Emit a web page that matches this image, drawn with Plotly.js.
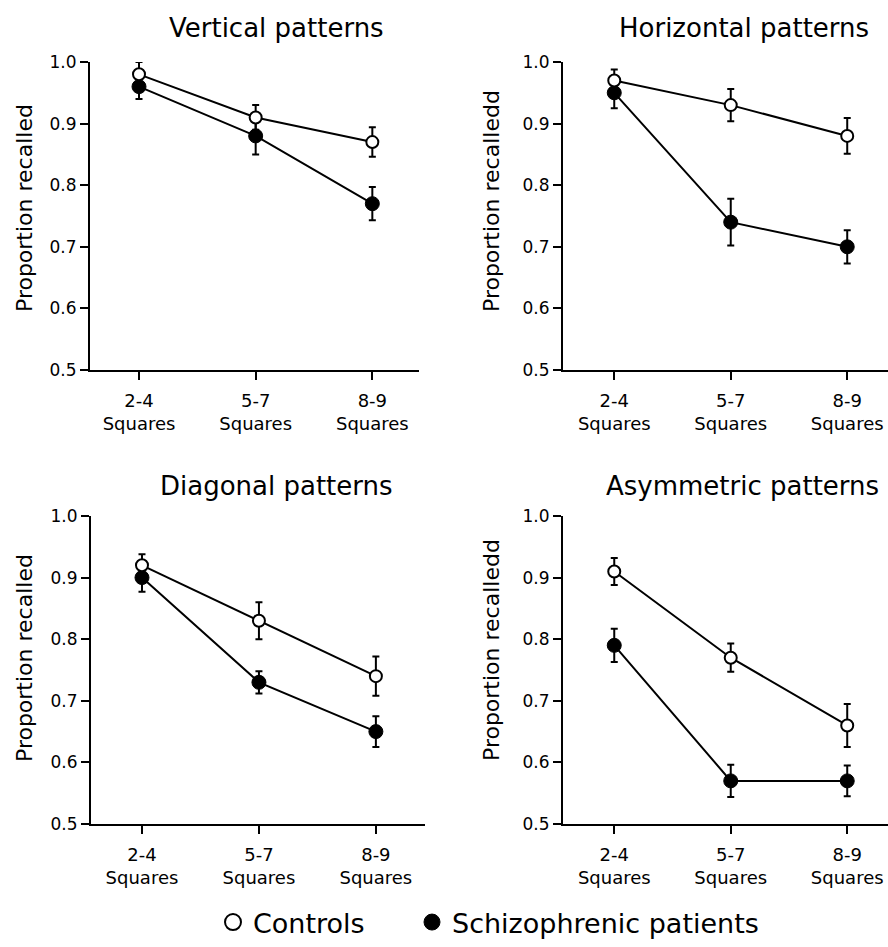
<!DOCTYPE html>
<html>
<head>
<meta charset="utf-8">
<script src="https://cdn.plot.ly/plotly-3.0.1.min.js"></script>
<style>
html,body{margin:0;padding:0;background:#fff;}
#chart{width:888px;height:947px;}
</style>
</head>
<body>
<div id="chart"></div>
<script>
// ---- data ----
const categories = ['2-4<br>Squares', '5-7<br>Squares', '8-9<br>Squares'];
const yTickVals = [0.5, 0.6, 0.7, 0.8, 0.9, 1.0];
const yTickText = ['0.5', '0.6', '0.7', '0.8', '0.9', '1.0'];
const seriesNames = ['Controls', 'Schizophrenic patients'];
const panelTitles = ['Vertical patterns', 'Horizontal patterns', 'Diagonal patterns', 'Asymmetric patterns'];
const yTitles = ['Proportion recalled', 'Proportion recalledd', 'Proportion recalled', 'Proportion recalledd'];

const verticalControls = [0.98, 0.91, 0.87];
const verticalControlsErr = [0.02, 0.02, 0.024];
const verticalPatients = [0.96, 0.88, 0.77];
const verticalPatientsErr = [0.02, 0.03, 0.027];

const horizontalControls = [0.97, 0.93, 0.88];
const horizontalControlsErr = [0.018, 0.026, 0.029];
const horizontalPatients = [0.95, 0.74, 0.70];
const horizontalPatientsErr = [0.025, 0.038, 0.027];

const diagonalControls = [0.92, 0.83, 0.74];
const diagonalControlsErr = [0.018, 0.03, 0.032];
const diagonalPatients = [0.90, 0.73, 0.65];
const diagonalPatientsErr = [0.023, 0.018, 0.025];

const asymmetricControls = [0.91, 0.77, 0.66];
const asymmetricControlsErr = [0.022, 0.023, 0.035];
const asymmetricPatients = [0.79, 0.57, 0.57];
const asymmetricPatientsErr = [0.027, 0.026, 0.025];

// ---- build ----
const W = 888, H = 947;
const FONT = 'DejaVu Sans';
const px = v => v / W;
const py = v => 1 - v / H;

const panels = [
  {ctrl: verticalControls, ctrlErr: verticalControlsErr, pat: verticalPatients, patErr: verticalPatientsErr,
   xd: [90, 419], yd: [62, 370], xr: [-0.42, 2.40]},
  {ctrl: horizontalControls, ctrlErr: horizontalControlsErr, pat: horizontalPatients, patErr: horizontalPatientsErr,
   xd: [563, 888], yd: [62, 370], xr: [-0.44, 2.35]},
  {ctrl: diagonalControls, ctrlErr: diagonalControlsErr, pat: diagonalPatients, patErr: diagonalPatientsErr,
   xd: [91, 425], yd: [516, 824], xr: [-0.436, 2.42]},
  {ctrl: asymmetricControls, ctrlErr: asymmetricControlsErr, pat: asymmetricPatients, patErr: asymmetricPatientsErr,
   xd: [563, 888], yd: [516, 824], xr: [-0.44, 2.35]}
];

const traces = [];
const legendFont = {family: FONT, size: 27, color: '#000'};
const layout = {
  width: W, height: H,
  margin: {l: 0, r: 0, t: 0, b: 0, autoexpand: false},
  paper_bgcolor: '#fff', plot_bgcolor: 'rgba(0,0,0,0)',
  font: {family: FONT, color: '#000'},
  showlegend: true,
  legend: {orientation: 'h', x: px(213), xanchor: 'left', y: 0, yanchor: 'bottom',
           font: legendFont, bgcolor: 'rgba(0,0,0,0)', borderwidth: 0},
  legend2: {orientation: 'h', x: px(412), xanchor: 'left', y: 0, yanchor: 'bottom',
           font: legendFont, bgcolor: 'rgba(0,0,0,0)', borderwidth: 0},
  annotations: []
};

const titlePos = [
  {x: 276, y: 28, xanchor: 'center'},
  {x: 617, y: 28, xanchor: 'left'},
  {x: 276, y: 486, xanchor: 'center'},
  {x: 604, y: 486, xanchor: 'left'}
];
const yTitlePos = [
  {x: 24, y: 208}, {x: 491, y: 201}, {x: 24, y: 658}, {x: 491, y: 650}
];

const patMarker = {symbol: 'circle', size: 14, color: '#000', line: {color: '#000', width: 1}};
const ctrlMarker = {symbol: 'circle', size: 12, color: '#fff', line: {color: '#000', width: 2}};

panels.forEach((p, i) => {
  const n = i + 1;
  const xa = 'x' + (n === 1 ? '' : n), ya = 'y' + (n === 1 ? '' : n);
  const xkey = 'xaxis' + (n === 1 ? '' : n), ykey = 'yaxis' + (n === 1 ? '' : n);
  traces.push({
    type: 'scatter', mode: 'lines+markers', x: categories, y: p.pat, xaxis: xa, yaxis: ya,
    name: seriesNames[1], showlegend: false,
    line: {color: '#000', width: 2},
    marker: patMarker,
    error_y: {type: 'data', array: p.patErr, visible: true, color: '#000', thickness: 2, width: 3.5},
    hoverinfo: 'skip'
  });
  traces.push({
    type: 'scatter', mode: 'lines+markers', x: categories, y: p.ctrl, xaxis: xa, yaxis: ya,
    name: seriesNames[0], showlegend: false,
    line: {color: '#000', width: 2},
    marker: ctrlMarker,
    error_y: {type: 'data', array: p.ctrlErr, visible: true, color: '#000', thickness: 2, width: 3.5},
    hoverinfo: 'skip'
  });
  layout[xkey] = {
    domain: [px(p.xd[0]), px(p.xd[1])], range: p.xr, anchor: ya, type: 'category',
    showline: true, linewidth: 2, linecolor: '#000', ticks: 'outside', ticklen: 8, tickwidth: 2, tickcolor: '#000',
    showgrid: false, zeroline: false, fixedrange: true, ticklabelstandoff: 5,
    tickfont: {family: FONT, size: 18, color: '#000'}
  };
  layout[ykey] = {
    domain: [py(p.yd[1]), py(p.yd[0])], range: [0.5, 1.0], anchor: xa,
    tickvals: yTickVals, ticktext: yTickText,
    showline: true, linewidth: 2, linecolor: '#000', ticks: 'outside', ticklen: 8, tickwidth: 2, tickcolor: '#000',
    showgrid: false, zeroline: false, fixedrange: true,
    tickfont: {family: FONT, size: 17, color: '#000'}
  };
  layout.annotations.push({
    xref: 'paper', yref: 'paper', x: px(titlePos[i].x), y: py(titlePos[i].y),
    xanchor: titlePos[i].xanchor, yanchor: 'middle', showarrow: false,
    text: panelTitles[i], font: {family: FONT, size: 26, color: '#000'}
  });
  layout.annotations.push({
    xref: 'paper', yref: 'paper', x: px(yTitlePos[i].x), y: py(yTitlePos[i].y),
    xanchor: 'center', yanchor: 'middle', showarrow: false, textangle: -90,
    text: yTitles[i], font: {family: FONT, size: 22, color: '#000'}
  });
});

// legend-only key entries (markers only, as in the reference key)
traces.push({
  type: 'scatter', mode: 'markers', x: [null], y: [null], xaxis: 'x', yaxis: 'y',
  name: seriesNames[0], legend: 'legend', marker: Object.assign({}, ctrlMarker, {size: 16}), hoverinfo: 'skip'
});
traces.push({
  type: 'scatter', mode: 'markers', x: [null], y: [null], xaxis: 'x', yaxis: 'y',
  name: seriesNames[1], legend: 'legend2', marker: Object.assign({}, patMarker, {size: 16}), hoverinfo: 'skip'
});

Plotly.newPlot('chart', traces, layout, {staticPlot: true, displayModeBar: false});
</script>
</body>
</html>
